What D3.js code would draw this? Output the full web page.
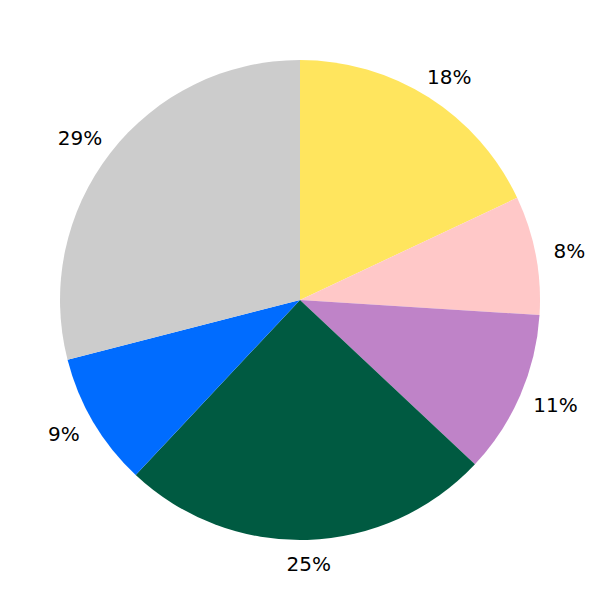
<!DOCTYPE html>
<html><head><meta charset="utf-8">
<script src="https://cdn.jsdelivr.net/npm/d3@7"></script>
<style>body{margin:0;background:#fff}</style>
</head><body>
<svg id="c" width="600" height="600"></svg>
<script>
const labels = ["18%","8%","11%","25%","9%","29%"];
const values = [18, 8, 11, 25, 9, 29];
const colors = ["#FFE55E","#FFC8C8","#BF83C8","#005A41","#006CFF","#CCCCCC"];

const svg = d3.select("#c");
const g = svg.append("g").attr("transform","translate(300,300)");
const R = 240;
const pie = d3.pie().sort(null).value(d=>d);
const arcs = pie(values);
const arc = d3.arc().innerRadius(0).outerRadius(R);
const LR = R * 1.1;

g.selectAll("path").data(arcs).enter().append("path")
  .attr("d", arc).attr("fill", (d,i)=>colors[i]);

g.selectAll("text").data(arcs).enter().append("text")
  .attr("text-anchor","middle").attr("dominant-baseline","central")
  .attr("font-family","DejaVu Sans").attr("font-size",20).attr("fill","#000")
  .text((d,i)=>labels[i])
  .each(function(d){
    const a = (d.startAngle + d.endAngle)/2;
    const w = this.getComputedTextLength();
    const x = LR*Math.sin(a) + 0.65*(w/2)*Math.sin(a);
    const y = -LR*Math.cos(a);
    d3.select(this).attr("x", x).attr("y", y);
  });
</script>
</body></html>
